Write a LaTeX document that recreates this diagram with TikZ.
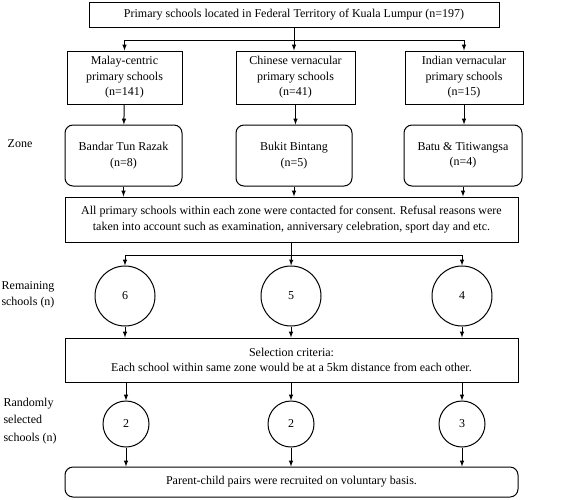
\documentclass[tikz,border=0pt]{standalone}
\usepackage{fontspec}
\setmainfont{Liberation Serif}
\begin{document}
\begin{tikzpicture}[x=1pt,y=-1pt,every node/.style={font=\fontsize{12}{15.5}\selectfont,align=center,inner sep=0pt}]
        \tikzset{edge/.style = {->,> = latex, line width=1pt}}
        \tikzset{box/.style = {draw,line width=1pt,minimum height=#1}}
        \tikzset{rbox/.style = {box=#1,rounded corners=8pt}}
        \tikzset{ring/.style = {circle,draw,line width=1pt,minimum size=#1}}
        \useasboundingbox (0,0) rectangle (567,499);
        \node[box=25,minimum width=410] (KL) at (294,14.5) {Primary schools located in Federal Territory of Kuala Lumpur (n=197)};
        \node[box=53,minimum width=115] (MC) at (124.5,77.5) {Malay-centric\\primary schools\\(n=141)};
        \node[box=53,minimum width=119] (CV) at (295.5,77.5) {Chinese vernacular\\primary schools\\(n=41)};
        \node[box=53,minimum width=118] (IV) at (464,77.5) {Indian vernacular\\primary schools\\(n=15)};
        \node[rbox=61,minimum width=117] (BTR) at (123.5,155.5) {Bandar Tun Razak\\(n=8)};
        \node[rbox=61,minimum width=116] (BB) at (294,155.5) {Bukit Bintang\\(n=5)};
        \node[rbox=61,minimum width=118] (BT) at (463,155.5) {Batu \& Titiwangsa\\(n=4)};
        \node[box=45,minimum width=453] (ALL) at (291.5,219.5) {All primary schools within each zone were contacted for consent. Refusal reasons were\\taken into account such as examination, anniversary celebration, sport day and etc.};
        \node[ring=60] (R6) at (125,296) {6};
        \node[ring=60] (R5) at (291,296) {5};
        \node[ring=60] (R4) at (462,296) {4};
        \node[box=44,minimum width=453] (SEL) at (291.5,360) {Selection criteria:\\Each school within same zone would be at a 5km distance from each other.};
        \node[ring=46] (S6) at (126,424) {2};
        \node[ring=46] (S5) at (291,424) {2};
        \node[ring=46] (S4) at (462,424) {3};
        \node[rbox=30,minimum width=453] (PC) at (291.5,482) {Parent-child pairs were recruited on voluntary basis.};
        \node (Z) at (20,144) {Zone};
        \node (RS) at (28,295) {Remaining\\schools (n)};
        \node[align=left,font=\fontsize{12}{17.5}\selectfont] (RN) at (30,421) {Randomly\\selected\\schools (n)};

        \draw[line width=1pt] (KL) -- (KL.south |- 0,40) coordinate (J1);
        \draw[edge] (J1) -| (MC.north);
        \draw[edge] (J1) -| (IV.north);
        \draw[edge] (J1) -- (J1 |- CV.north);
        \draw[edge] (MC) -- (BTR);
        \draw[edge] (CV) -- (CV.south |- BB.north);
        \draw[edge] (IV) -- (IV.south |- BT.north);
        \draw[edge] (BTR) -- (BTR.south |- ALL.north);
        \draw[edge] (BB) -- (BB.south |- ALL.north);
        \draw[edge] (BT) -- (BT.south |- ALL.north);
        \draw[line width=1pt] (ALL) -- (ALL.south |- 0,255) coordinate (J2);
        \draw[edge] (J2) -| (R6.north);
        \draw[edge] (J2) -| (R4.north);
        \draw[edge] (J2) -- (R5.north);
        \draw[edge] (R6) -- (R6.south |- SEL.north);
        \draw[edge] (R5) -- (R5.south |- SEL.north);
        \draw[edge] (R4) -- (R4.south |- SEL.north);
        \draw[edge] (SEL.south -| S6) -- (S6);
        \draw[edge] (SEL.south -| S5) -- (S5);
        \draw[edge] (SEL.south -| S4) -- (S4);
        \draw[edge] (S6) -- (S6.south |- PC.north);
        \draw[edge] (S5) -- (S5.south |- PC.north);
        \draw[edge] (S4) -- (S4.south |- PC.north);
\end{tikzpicture}
\end{document}
